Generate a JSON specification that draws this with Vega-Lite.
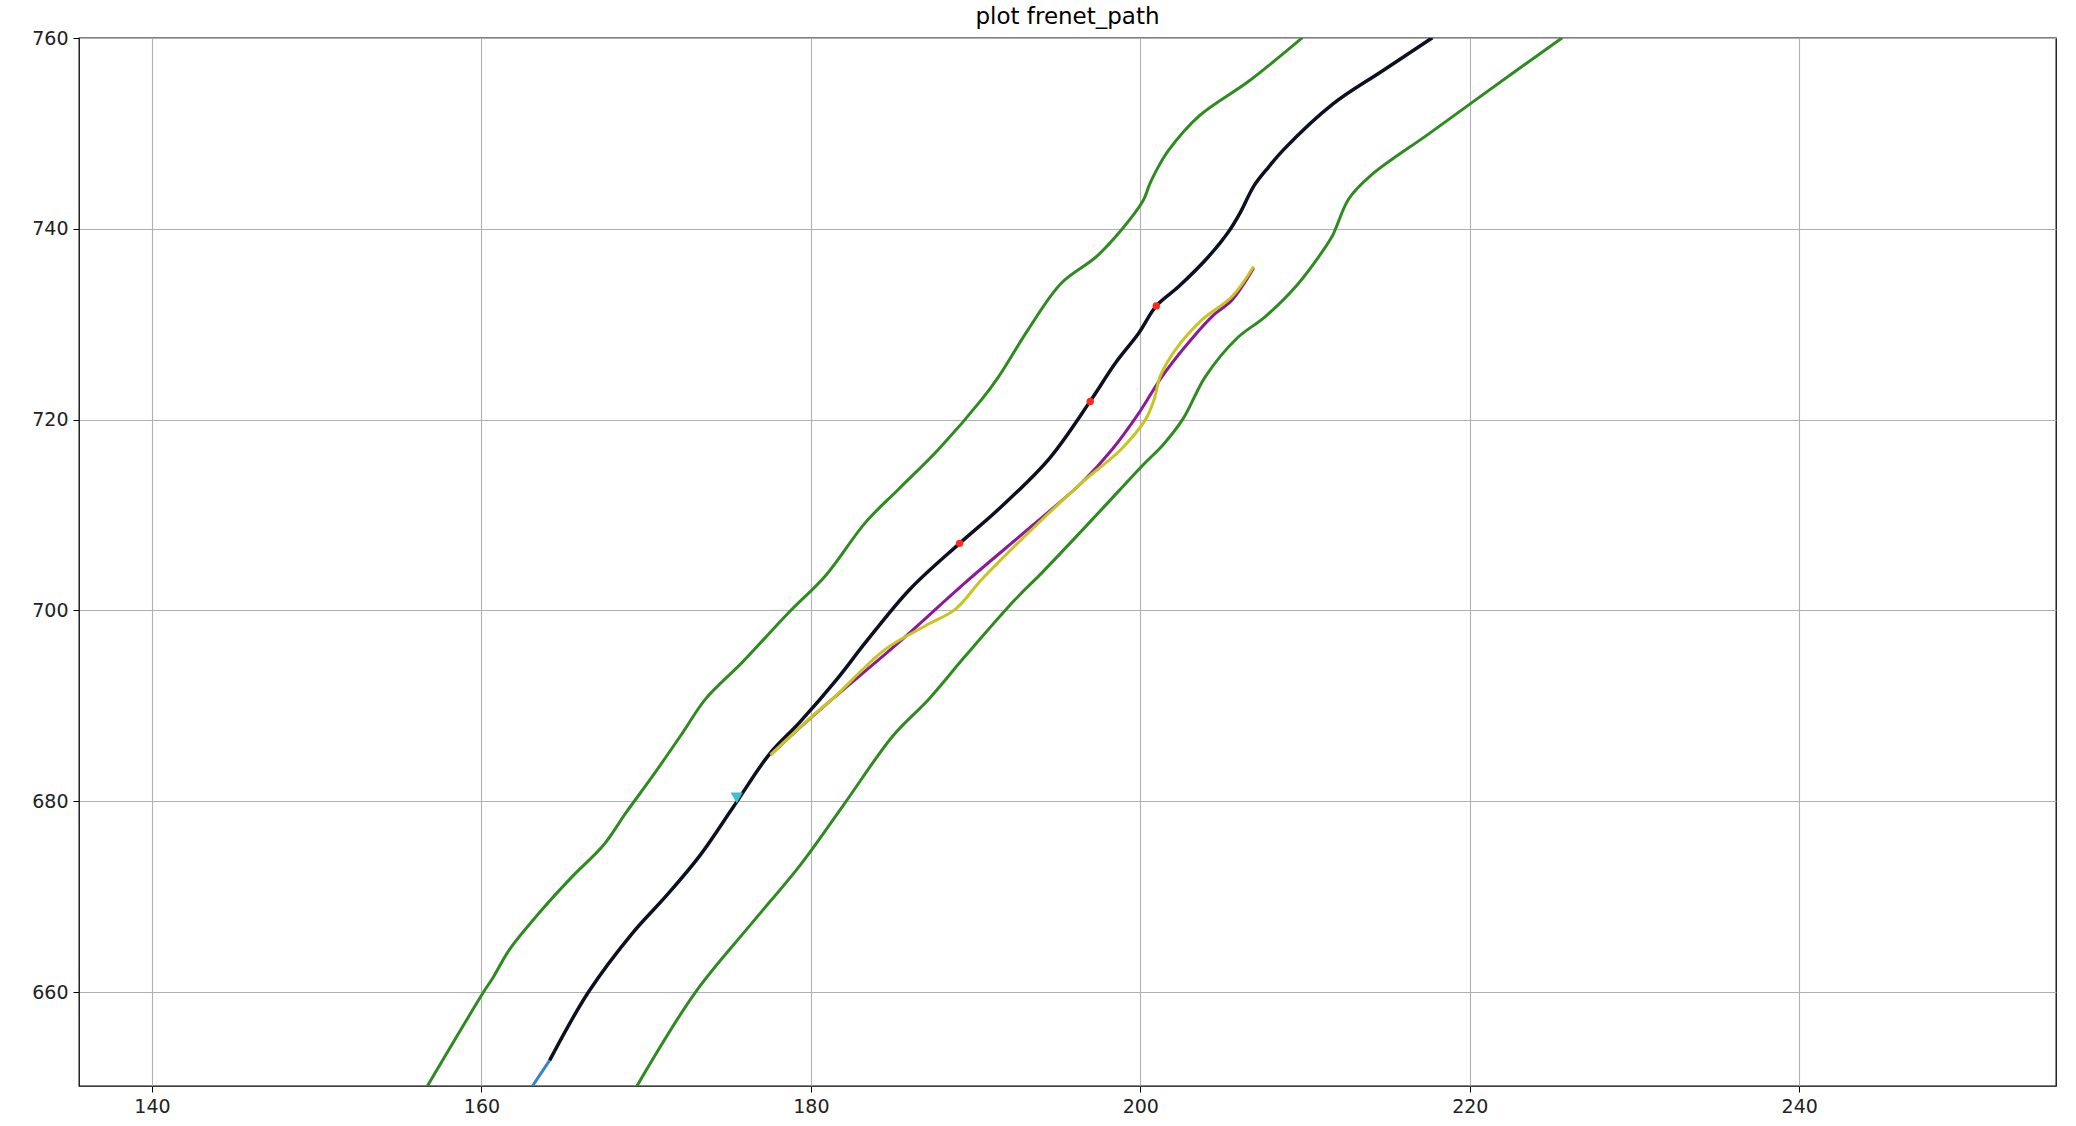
{
  "$schema": "https://vega.github.io/schema/vega-lite/v6.json",
  "width": 1977,
  "height": 1048,
  "autosize": {"type": "none"},
  "padding": {"left": 79, "top": 38, "right": 20, "bottom": 40},
  "background": "#ffffff",
  "title": {"text": "plot frenet_path", "fontSize": 23, "font": "DejaVu Sans", "fontWeight": "normal", "color": "#000000", "anchor": "middle", "baseline": "bottom", "offset": 6, "dy": 29},
  "config": {
    "view": {"stroke": "#000000", "strokeWidth": 1.3},
    "axis": {"domain": false, "grid": true, "gridColor": "#b0b0b0", "gridWidth": 1.1, "tickColor": "#000000", "tickSize": 6, "tickWidth": 1, "labelFont": "DejaVu Sans", "labelFontSize": 19, "labelColor": "#222222", "labelPadding": 5, "title": null}
  },
  "datasets": {
    "lines": [
      {"s": "gl", "i": 0, "x": 156.72, "y": 650.15},
      {"s": "gl", "i": 1, "x": 160.13, "y": 660.0},
      {"s": "gl", "i": 2, "x": 160.7, "y": 661.5},
      {"s": "gl", "i": 3, "x": 161.72, "y": 664.5},
      {"s": "gl", "i": 4, "x": 163.54, "y": 668.36},
      {"s": "gl", "i": 5, "x": 165.57, "y": 672.2},
      {"s": "gl", "i": 6, "x": 167.39, "y": 675.35},
      {"s": "gl", "i": 7, "x": 168.8, "y": 678.85},
      {"s": "gl", "i": 8, "x": 170.42, "y": 682.7},
      {"s": "gl", "i": 9, "x": 172.24, "y": 687.24},
      {"s": "gl", "i": 10, "x": 173.6, "y": 690.7},
      {"s": "gl", "i": 11, "x": 175.83, "y": 694.55},
      {"s": "gl", "i": 12, "x": 178.66, "y": 699.79},
      {"s": "gl", "i": 13, "x": 180.89, "y": 703.64},
      {"s": "gl", "i": 14, "x": 183.32, "y": 709.23},
      {"s": "gl", "i": 15, "x": 185.34, "y": 712.73},
      {"s": "gl", "i": 16, "x": 187.77, "y": 716.92},
      {"s": "gl", "i": 17, "x": 190.4, "y": 722.17},
      {"s": "gl", "i": 18, "x": 191.4, "y": 724.51},
      {"s": "gl", "i": 19, "x": 193.18, "y": 729.41},
      {"s": "gl", "i": 20, "x": 195.2, "y": 734.3},
      {"s": "gl", "i": 21, "x": 197.47, "y": 737.3},
      {"s": "gl", "i": 22, "x": 200.12, "y": 742.8},
      {"s": "gl", "i": 23, "x": 200.55, "y": 744.6},
      {"s": "gl", "i": 24, "x": 201.0, "y": 746.2},
      {"s": "gl", "i": 25, "x": 201.7, "y": 748.2},
      {"s": "gl", "i": 26, "x": 203.56, "y": 751.82},
      {"s": "gl", "i": 27, "x": 206.6, "y": 755.49},
      {"s": "gl", "i": 28, "x": 209.84, "y": 760.03},

      {"s": "gr", "i": 0, "x": 169.44, "y": 650.15},
      {"s": "gr", "i": 1, "x": 173.0, "y": 660.0},
      {"s": "gr", "i": 3, "x": 176.29, "y": 666.96},
      {"s": "gr", "i": 4, "x": 179.33, "y": 673.25},
      {"s": "gr", "i": 5, "x": 181.96, "y": 679.55},
      {"s": "gr", "i": 6, "x": 185.0, "y": 686.89},
      {"s": "gr", "i": 7, "x": 187.16, "y": 690.7},
      {"s": "gr", "i": 8, "x": 189.39, "y": 695.24},
      {"s": "gr", "i": 9, "x": 192.43, "y": 701.19},
      {"s": "gr", "i": 10, "x": 194.05, "y": 703.99},
      {"s": "gr", "i": 11, "x": 197.49, "y": 710.28},
      {"s": "gr", "i": 12, "x": 200.12, "y": 715.17},
      {"s": "gr", "i": 13, "x": 201.4, "y": 717.4},
      {"s": "gr", "i": 14, "x": 202.6, "y": 720.1},
      {"s": "gr", "i": 15, "x": 203.95, "y": 724.51},
      {"s": "gr", "i": 16, "x": 205.87, "y": 728.53},
      {"s": "gr", "i": 17, "x": 207.59, "y": 730.8},
      {"s": "gr", "i": 18, "x": 209.61, "y": 734.3},
      {"s": "gr", "i": 19, "x": 211.64, "y": 739.2},
      {"s": "gr", "i": 20, "x": 211.9, "y": 740.2},
      {"s": "gr", "i": 21, "x": 212.66, "y": 743.15},
      {"s": "gr", "i": 22, "x": 214.0, "y": 745.6},
      {"s": "gr", "i": 24, "x": 217.47, "y": 749.9},
      {"s": "gr", "i": 25, "x": 220.4, "y": 753.57},
      {"s": "gr", "i": 26, "x": 225.62, "y": 760.03},

      {"s": "b", "i": 0, "x": 163.1, "y": 650.15},
      {"s": "b", "i": 1, "x": 164.14, "y": 652.83},

      {"s": "k", "i": 0, "x": 164.14, "y": 652.83},
      {"s": "k", "i": 1, "x": 166.5, "y": 660.0},
      {"s": "k", "i": 3, "x": 169.21, "y": 666.26},
      {"s": "k", "i": 4, "x": 171.23, "y": 670.1},
      {"s": "k", "i": 5, "x": 173.26, "y": 674.3},
      {"s": "k", "i": 6, "x": 175.28, "y": 679.37},
      {"s": "k", "i": 7, "x": 177.5, "y": 684.97},
      {"s": "k", "i": 8, "x": 179.33, "y": 688.29},
      {"s": "k", "i": 10, "x": 181.6, "y": 692.83},
      {"s": "k", "i": 11, "x": 183.32, "y": 696.64},
      {"s": "k", "i": 12, "x": 186.0, "y": 702.2},
      {"s": "k", "i": 13, "x": 189.03, "y": 707.03},
      {"s": "k", "i": 14, "x": 191.41, "y": 710.63},
      {"s": "k", "i": 15, "x": 194.45, "y": 715.87},
      {"s": "k", "i": 16, "x": 196.98, "y": 721.99},
      {"s": "k", "i": 17, "x": 198.48, "y": 725.91},
      {"s": "k", "i": 18, "x": 199.9, "y": 729.06},
      {"s": "k", "i": 19, "x": 200.97, "y": 731.92},
      {"s": "k", "i": 20, "x": 202.33, "y": 733.95},
      {"s": "k", "i": 21, "x": 204.15, "y": 737.1},
      {"s": "k", "i": 22, "x": 205.4, "y": 739.8},
      {"s": "k", "i": 23, "x": 206.1, "y": 741.8},
      {"s": "k", "i": 24, "x": 206.9, "y": 744.5},
      {"s": "k", "i": 25, "x": 207.8, "y": 746.5},
      {"s": "k", "i": 26, "x": 208.7, "y": 748.3},
      {"s": "k", "i": 27, "x": 211.66, "y": 753.04},
      {"s": "k", "i": 28, "x": 214.69, "y": 756.54},
      {"s": "k", "i": 29, "x": 217.73, "y": 760.03},

      {"s": "p", "i": 0, "x": 177.55, "y": 684.86},
      {"s": "p", "i": 1, "x": 179.0, "y": 687.2},
      {"s": "p", "i": 2, "x": 181.3, "y": 690.7},
      {"s": "p", "i": 3, "x": 185.34, "y": 696.64},
      {"s": "p", "i": 4, "x": 189.39, "y": 702.94},
      {"s": "p", "i": 5, "x": 193.44, "y": 708.88},
      {"s": "p", "i": 6, "x": 196.47, "y": 713.43},
      {"s": "p", "i": 7, "x": 198.3, "y": 716.9},
      {"s": "p", "i": 8, "x": 199.9, "y": 720.66},
      {"s": "p", "i": 9, "x": 201.32, "y": 724.51},
      {"s": "p", "i": 10, "x": 202.73, "y": 727.66},
      {"s": "p", "i": 11, "x": 204.35, "y": 730.8},
      {"s": "p", "i": 12, "x": 205.57, "y": 732.55},
      {"s": "p", "i": 13, "x": 206.88, "y": 735.9},

      {"s": "yl", "i": 0, "x": 177.55, "y": 684.86},
      {"s": "yl", "i": 1, "x": 180.14, "y": 688.99},
      {"s": "yl", "i": 2, "x": 181.3, "y": 690.7},
      {"s": "yl", "i": 3, "x": 184.53, "y": 695.94},
      {"s": "yl", "i": 4, "x": 186.96, "y": 698.39},
      {"s": "yl", "i": 5, "x": 188.78, "y": 700.14},
      {"s": "yl", "i": 6, "x": 190.4, "y": 703.29},
      {"s": "yl", "i": 7, "x": 193.44, "y": 708.53},
      {"s": "yl", "i": 8, "x": 196.47, "y": 713.43},
      {"s": "yl", "i": 9, "x": 198.79, "y": 716.82},
      {"s": "yl", "i": 10, "x": 200.3, "y": 719.97},
      {"s": "yl", "i": 11, "x": 200.85, "y": 722.17},
      {"s": "yl", "i": 12, "x": 201.2, "y": 724.51},
      {"s": "yl", "i": 13, "x": 202.13, "y": 727.31},
      {"s": "yl", "i": 14, "x": 203.74, "y": 730.45},
      {"s": "yl", "i": 15, "x": 205.57, "y": 732.9},
      {"s": "yl", "i": 16, "x": 206.88, "y": 736.05}
    ],
    "dots": [
      {"x": 189.03, "y": 707.03},
      {"x": 196.96, "y": 721.9},
      {"x": 200.97, "y": 731.92}
    ],
    "ego": [
      {"x": 175.5, "y": 680.35}
    ]
  },
  "encoding": {
    "x": {"field": "x", "type": "quantitative", "scale": {"domain": [135.57, 255.59], "nice": false, "zero": false}, "axis": {"values": [140, 160, 180, 200, 220, 240]}},
    "y": {"field": "y", "type": "quantitative", "scale": {"domain": [650.15, 760.0], "nice": false, "zero": false}, "axis": {"values": [660, 680, 700, 720, 740, 760]}}
  },
  "layer": [
    {"data": {"name": "lines"}, "transform": [{"filter": "datum.s === 'gl' || datum.s === 'gr'"}], "mark": {"type": "line", "color": "#2e8b1f", "strokeWidth": 3, "interpolate": "catmull-rom", "clip": true}, "encoding": {"detail": {"field": "s"}, "order": {"field": "i", "type": "quantitative"}}},
    {"data": {"name": "lines"}, "transform": [{"filter": "datum.s === 'b'"}], "mark": {"type": "line", "color": "#3a7fd0", "strokeWidth": 3, "clip": true}, "encoding": {"order": {"field": "i", "type": "quantitative"}}},
    {"data": {"name": "lines"}, "transform": [{"filter": "datum.s === 'k'"}], "mark": {"type": "line", "color": "#0d1020", "strokeWidth": 3.5, "interpolate": "catmull-rom", "clip": true}, "encoding": {"order": {"field": "i", "type": "quantitative"}}},
    {"data": {"name": "lines"}, "transform": [{"filter": "datum.s === 'p'"}], "mark": {"type": "line", "color": "#8a1a9a", "strokeWidth": 3, "interpolate": "catmull-rom", "clip": true}, "encoding": {"order": {"field": "i", "type": "quantitative"}}},
    {"data": {"name": "lines"}, "transform": [{"filter": "datum.s === 'yl'"}], "mark": {"type": "line", "color": "#c8c520", "strokeWidth": 3, "interpolate": "catmull-rom", "clip": true}, "encoding": {"order": {"field": "i", "type": "quantitative"}}},
    {"data": {"name": "dots"}, "mark": {"type": "point", "shape": "circle", "filled": true, "color": "#ff2a1a", "size": 55, "opacity": 1}},
    {"data": {"name": "ego"}, "mark": {"type": "point", "shape": "triangle-down", "filled": true, "color": "#40c0c8", "size": 150, "opacity": 1}}
  ]
}
